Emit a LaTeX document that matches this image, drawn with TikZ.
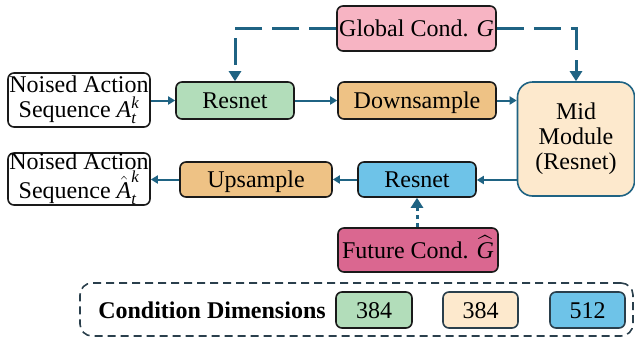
\documentclass[tikz,border=0pt]{standalone}
\usepackage{amsmath}
\usepackage{fontspec}
\setmainfont{Liberation Serif}
\usetikzlibrary{arrows.meta}
\definecolor{teal1}{HTML}{1F6383}
\definecolor{gfill}{HTML}{B2DDBA}
\definecolor{ofill}{HTML}{EEC285}
\definecolor{pfill}{HTML}{F7B4C3}
\definecolor{cfill}{HTML}{FDE9CD}
\definecolor{bfill}{HTML}{6EC3E8}
\definecolor{mfill}{HTML}{DA6790}
\definecolor{edge}{HTML}{1A1A1A}
\definecolor{dbox}{HTML}{2A3F4C}
\tikzset{
  box/.style={draw=edge, line width=1.6pt, rounded corners=6pt, align=center, inner sep=0pt,
    font=\fontsize{24}{25}\selectfont},
  one/.style={text height=16.5pt, text depth=0pt},
  arr/.style={draw=teal1, line width=2pt, -{Triangle[length=7pt,width=8pt]}},
  darr/.style={draw=teal1, line width=3pt, dash pattern=on 27pt off 10pt, -{Triangle[length=10pt,width=12pt]}},
  dotarr/.style={draw=teal1, line width=3pt, dash pattern=on 4pt off 4pt, -{Triangle[length=10pt,width=12pt]}},
}
\begin{document}
\begin{tikzpicture}[x=1pt,y=-1pt]
\useasboundingbox (0,0) rectangle (635,341);
\node[box, minimum width=142pt, minimum height=54pt] (nin) at (79,100) {Noised Action\\Sequence $\textit{A}^{\textit{k}}_{\textit{t}}$};
\node[box, one, fill=gfill, minimum width=118pt, minimum height=37pt] (r1) at (235,100.5) {Resnet};
\node[box, one, fill=ofill, minimum width=158pt, minimum height=37pt] (down) at (417,100.5) {Downsample};
\node[box, one, fill=pfill, minimum width=159pt, minimum height=45pt] (glob) at (416.5,28.5) {Global Cond. \textit{G}};
\node[box, draw=teal1, fill=cfill, rounded corners=15pt, minimum width=117pt, minimum height=114pt] (mid) at (576,139) {Mid\\Module\\(Resnet)};
\node[box, one, fill=bfill, minimum width=118pt, minimum height=35pt] (r2) at (417,179.5) {Resnet};
\node[box, one, fill=ofill, minimum width=152pt, minimum height=35pt] (up) at (256,179.5) {Upsample};
\node[box, minimum width=142pt, minimum height=52pt] (nout) at (79,179) {Noised Action\\Sequence $\hat{\textit{A}}^{\textit{k}}_{\textit{t}}$};
\node[box, one, fill=mfill, minimum width=160pt, minimum height=44pt] (fut) at (418,250) {Future Cond. $\widehat{\textit{G}}$};
\node[draw=dbox, line width=1.6pt, dashed, dash pattern=on 8pt off 5pt, rounded corners=12pt, minimum width=553pt, minimum height=53pt, inner sep=0pt] (dimbox) at (356.5,309.5) {};
\node[font=\fontsize{24}{25}\selectfont\bfseries, one, inner sep=0pt] (dimlab) at (212,310) {Condition Dimensions};
\node[box, one, draw=edge, fill=gfill, minimum width=76pt, minimum height=36pt] (d1) at (374,310) {384};
\node[box, one, draw=dbox, fill=cfill, minimum width=75pt, minimum height=36pt] (d2) at (480.5,310) {384};
\node[box, one, draw=dbox, fill=bfill, minimum width=75pt, minimum height=36pt] (d3) at (587.5,310) {512};
% connectors
\draw[arr] (nin.east |- r1.west) -- (r1.west);
\draw[arr] (r1) -- (down);
\draw[arr] (down.east) -- (mid.west |- down.east);
\draw[arr] (mid.west |- 0,180) -- (r2.east |- 0,180);
\draw[arr] (r2) -- (up);
\draw[arr] (up.west) -- (nout.east |- up.west);
\draw[dotarr] (fut.north -| r2.south) -- (r2.south);
\draw[darr] (glob.west) -| (r1.north);
\draw[darr] (glob.east) -| (mid.north);
\end{tikzpicture}
\end{document}
